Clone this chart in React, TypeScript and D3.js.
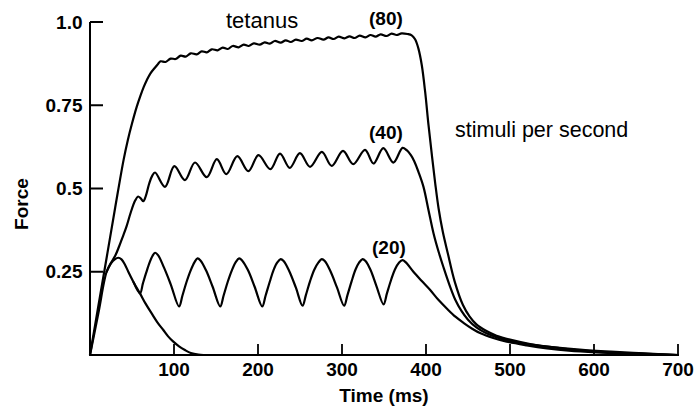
import React from "react";
import * as d3 from "d3";

type Pt = [number, number];

const xTickValues = [100, 200, 300, 400, 500, 600, 700];
const yTickValues = [0.25, 0.5, 0.75, 1.0];
const yTickLabels = ["0.25", "0.5", "0.75", "1.0"];

// tetanus (80 stimuli per second) — [time ms, force]
const tetanus: Pt[] = [
  [0, 0], [10, 0.148], [20, 0.295], [30, 0.443], [40, 0.586], [45, 0.645], [50, 0.695],
  [55.6, 0.745], [60, 0.778], [64, 0.805], [67.7, 0.826], [72, 0.846], [77, 0.862], [81, 0.874],
  [84, 0.882], [90, 0.880], [96, 0.890], [102, 0.889], [108, 0.899], [114, 0.896], [120, 0.906],
  [127, 0.903], [133, 0.912], [139, 0.909], [145, 0.918], [152, 0.915], [158, 0.923], [164, 0.919],
  [170, 0.928], [177, 0.924], [183, 0.932], [189, 0.928], [195, 0.936], [202, 0.932], [208, 0.939],
  [214, 0.935], [220, 0.943], [227, 0.938], [233, 0.945], [239, 0.940], [245, 0.947], [252, 0.943],
  [258, 0.950], [264, 0.945], [271, 0.952], [278, 0.947], [284, 0.954], [290, 0.949], [296, 0.956],
  [303, 0.951], [309, 0.957], [315, 0.952], [321, 0.959], [328, 0.954], [334, 0.961], [340, 0.956],
  [346, 0.963], [353, 0.958], [359, 0.965], [365, 0.961], [371, 0.966], [378, 0.964],
  [383, 0.96], [387, 0.948], [391, 0.92], [395, 0.87], [399, 0.79], [403, 0.69], [407, 0.6],
  [411, 0.515], [415, 0.44], [420, 0.37], [426, 0.305], [434, 0.222], [444, 0.15], [452, 0.115],
  [460, 0.092], [472, 0.072], [484, 0.058], [500, 0.046], [524, 0.033], [550, 0.024], [583, 0.016],
  [620, 0.01], [660, 0.005], [700, 0],
];

// 40 stimuli per second
const hz40: Pt[] = [
  [19.8, 0.25], [25, 0.277], [30, 0.298], [34.5, 0.325], [39, 0.355], [43.6, 0.387], [48.5, 0.428],
  [53.6, 0.463], [57.2, 0.476], [60.5, 0.47], [63.5, 0.462], [66.5, 0.478], [70.5, 0.515], [74, 0.538],
  [77.4, 0.548], [89.3, 0.505], [100.4, 0.567], [113, 0.525], [125, 0.578], [139, 0.534], [151, 0.588],
  [162.3, 0.543], [175.4, 0.597], [188.5, 0.552], [200.6, 0.6], [214.7, 0.558], [226.2, 0.605],
  [237.8, 0.562], [249.9, 0.606], [262, 0.565], [276, 0.61], [287.7, 0.568], [301.2, 0.613],
  [313.4, 0.573], [327.4, 0.616], [337.5, 0.575], [349.2, 0.621], [361.2, 0.578], [372, 0.622],
  [377, 0.615], [382, 0.6], [386, 0.582], [391, 0.55], [397, 0.505], [403, 0.435], [409, 0.365],
  [415, 0.31], [421, 0.262], [428, 0.21], [435, 0.165], [442, 0.133], [450, 0.106], [460, 0.083],
  [472, 0.065], [488, 0.05], [504, 0.04], [525, 0.031], [544, 0.025], [570, 0.017], [603, 0.01],
  [650, 0.004], [700, 0],
];

// 20 stimuli per second
const hz20: Pt[] = [
  [52, 0.218], [59.5, 0.185], [63, 0.215], [67, 0.248], [71, 0.278], [74.5, 0.298], [77.5, 0.307],
  [81, 0.3], [88, 0.263], [96, 0.213], [106, 0.146],
  [110, 0.178], [115, 0.22], [120, 0.255], [124.5, 0.279], [128, 0.29], [131.5, 0.284], [138, 0.255],
  [146, 0.205], [155, 0.146],
  [159, 0.178], [164, 0.22], [169, 0.255], [173.5, 0.279], [177.5, 0.29], [181, 0.284], [188, 0.255],
  [196, 0.205], [205, 0.146],
  [209, 0.178], [214, 0.22], [218.5, 0.255], [223, 0.278], [227, 0.288], [230.5, 0.282], [237, 0.253],
  [245, 0.203], [253, 0.148],
  [257, 0.18], [262, 0.222], [267, 0.256], [272, 0.278], [276, 0.288], [279.5, 0.282], [286, 0.253],
  [294, 0.203], [302.5, 0.148],
  [306.5, 0.18], [311.5, 0.222], [316, 0.256], [320.5, 0.278], [324.5, 0.288], [328, 0.282],
  [334, 0.255], [341, 0.207], [349.5, 0.152],
  [353.5, 0.185], [358.5, 0.226], [363, 0.257], [368, 0.278], [372, 0.285], [376, 0.278],
  [385, 0.25], [395, 0.222], [405, 0.195], [415, 0.165], [425, 0.139], [435, 0.115], [445, 0.096],
  [455, 0.079], [465, 0.065], [480, 0.051], [496, 0.04], [520, 0.029], [544, 0.02], [570, 0.013],
  [603, 0.008], [650, 0.004], [700, 0],
];

// single twitch
const twitch: Pt[] = [
  [0, 0], [10, 0.126], [19.8, 0.25], [25, 0.275], [29.5, 0.287], [33.7, 0.292], [37.5, 0.287],
  [41.5, 0.272], [45.6, 0.25], [52, 0.218], [59.5, 0.185], [66, 0.155], [73.4, 0.125], [80, 0.099],
  [87.3, 0.075], [93, 0.056], [99.2, 0.04], [106, 0.026], [113, 0.015], [120, 0.006], [129, 0.001],
  [135, 0],
];

const FONT = "'Liberation Sans', Arial, Helvetica, sans-serif";

export default function App() {
  const W = 697;
  const H = 410;
  const x = d3.scaleLinear().domain([0, 700]).range([90, 678]);
  const y = d3.scaleLinear().domain([0, 1]).range([355, 22]);
  const line = d3
    .line<Pt>()
    .x((d) => x(d[0]))
    .y((d) => y(d[1]))
    .curve(d3.curveCatmullRom.alpha(0.5));

  const series = [tetanus, hz40, hz20, twitch];

  return (
    <svg
      width={W}
      height={H}
      viewBox={`0 0 ${W} ${H}`}
      style={{ position: "absolute", left: 0, top: 0, background: "#fff" }}
    >
      <rect x={0} y={0} width={W} height={H} fill="#fff" />
      {/* axes */}
      <line x1={x(0)} x2={x(0)} y1={y(0)} y2={y(1)} stroke="#000" strokeWidth={2} />
      <line x1={x(0)} x2={x(700)} y1={y(0)} y2={y(0)} stroke="#000" strokeWidth={2} />
      {yTickValues.map((v, i) => (
        <g key={"yt" + i}>
          <line x1={x(0)} x2={x(0) + 13} y1={y(v)} y2={y(v)} stroke="#000" strokeWidth={2} />
          <text
            x={82.5}
            y={y(v) + 6.5}
            textAnchor="end"
            fontFamily={FONT}
            fontWeight="bold"
            fontSize={19}
            fill="#000"
          >
            {yTickLabels[i]}
          </text>
        </g>
      ))}
      {xTickValues.map((v) => (
        <g key={"xt" + v}>
          <line x1={x(v)} x2={x(v)} y1={y(0)} y2={y(0) - 11} stroke="#000" strokeWidth={1.8} />
          <text
            x={x(v)}
            y={376}
            textAnchor="middle"
            fontFamily={FONT}
            fontWeight="bold"
            fontSize={19}
            fill="#000"
          >
            {v}
          </text>
        </g>
      ))}
      <text
        x={384}
        y={402}
        textAnchor="middle"
        fontFamily={FONT}
        fontWeight="bold"
        fontSize={19}
        fill="#000"
      >
        Time (ms)
      </text>
      <text
        transform="translate(28,204) rotate(-90)"
        textAnchor="middle"
        fontFamily={FONT}
        fontWeight="bold"
        fontSize={19}
        fill="#000"
      >
        Force
      </text>

      {/* curves */}
      {series.map((s, i) => (
        <path
          key={"s" + i}
          d={line(s) || ""}
          fill="none"
          stroke="#000"
          strokeWidth={2.2}
          strokeLinejoin="round"
          strokeLinecap="round"
        />
      ))}

      {/* annotations */}
      <text x={226} y={27.5} fontFamily={FONT} fontSize={22} fill="#000">
        tetanus
      </text>
      <text x={369} y={25} fontFamily={FONT} fontWeight="bold" fontSize={19} fill="#000">
        (80)
      </text>
      <text x={369} y={139} fontFamily={FONT} fontWeight="bold" fontSize={19} fill="#000">
        (40)
      </text>
      <text x={372} y={254} fontFamily={FONT} fontWeight="bold" fontSize={19} fill="#000">
        (20)
      </text>
      <text x={455} y={137} fontFamily={FONT} fontSize={21.5} fill="#000">
        stimuli per second
      </text>
    </svg>
  );
}
